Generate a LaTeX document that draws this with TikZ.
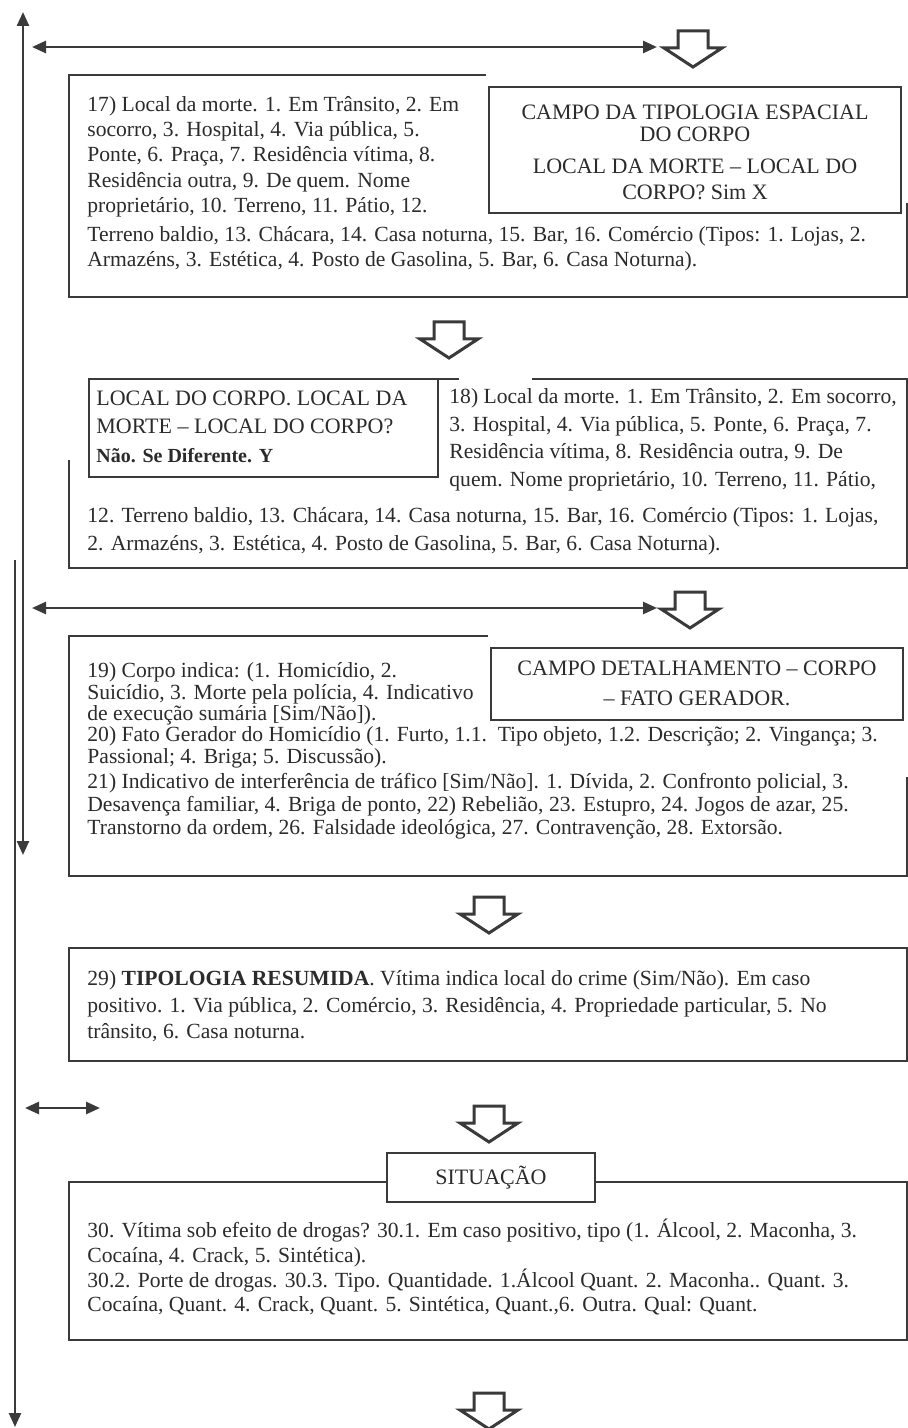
\documentclass[tikz,border=0pt]{standalone}
\usepackage{fontspec}
\setmainfont{Liberation Serif}
\usetikzlibrary{arrows.meta}
\definecolor{linec}{HTML}{3A3A3A}
\definecolor{txtc}{HTML}{2B2B2B}
\newcommand{\bodyfnt}{\fontsize{10.8}{12}\selectfont}
\newcommand{\titlefnt}{\fontsize{11}{13}\selectfont}
\tikzset{
  ln/.style={anchor=base west, inner sep=0pt, font=\bodyfnt, text=txtc},
  ttl/.style={anchor=base, inner sep=0pt, font=\titlefnt, text=txtc},
  ttlw/.style={anchor=base west, inner sep=0pt, font=\titlefnt, text=txtc},
  bx/.style={draw=linec, line width=1.4pt},
  con/.style={draw=linec, line width=1.2pt},
  tip/.tip={Triangle[length=7pt,width=6pt]},
  harr/.style={draw=linec, line width=1.3pt, tip-tip},
  hol/.style={draw=linec, line width=1.5pt, fill=white, line join=miter},
  hollowdown/.pic={\draw[hol] (-15,0) -- (15,0) -- (15,17) -- (29,17) -- (0,36) -- (-29,17) -- (-15,17) -- cycle;}
}
\begin{document}
\begin{tikzpicture}[x=0.5pt,y=-0.5pt]
\useasboundingbox[fill=white] (0,0) rectangle (908,1428);

% ---------- left long connectors ----------
\coordinate (aTop) at (23,12);
\coordinate (aBot) at (23,855);
\coordinate (bTop) at (15,560);
\coordinate (bBot) at (15,1427);
\draw[con, tip-tip] (aTop) -- (aBot);
\draw[con, -tip] (bTop) -- (bBot);

% ---------- horizontal double arrows ----------
\coordinate (h1L) at (32,47);  \coordinate (h1R) at (657,47);
\coordinate (h2L) at (32,608); \coordinate (h2R) at (657,608);
\coordinate (h3L) at (25,1108); \coordinate (h3R) at (100,1108);
\draw[harr] (h1L) -- (h1R);
\draw[harr] (h2L) -- (h2R);
\draw[harr] (h3L) -- (h3R);

% ---------- hollow arrows ----------
\pic (ha1) at (693,31) {hollowdown};
\pic (ha2) at (449,322) {hollowdown};
\pic (ha3) at (690,592) {hollowdown};
\pic (ha4) at (489,897) {hollowdown};
\pic (ha5) at (489,1106) {hollowdown};
\pic (ha6) at (489,1393) {hollowdown};

% ---------- Box 1 ----------
\draw[bx] (486,75) -- (69,75) -- (69,297) -- (907,297) -- (907,203);
\draw[bx] (489,87) rectangle (901,213);
\foreach \yy/\txt [count=\i] in {
 112/{17) Local da morte. 1. Em Trânsito, 2. Em},
 137/{socorro, 3. Hospital, 4. Via pública, 5.},
 162/{Ponte, 6. Praça, 7. Residência vítima, 8.},
 188/{Residência outra, 9. De quem. Nome},
 213/{proprietário, 10. Terreno, 11. Pátio, 12.},
 242/{Terreno baldio, 13. Chácara, 14. Casa noturna, 15. Bar, 16. Comércio (Tipos: 1. Lojas, 2.},
 267/{Armazéns, 3. Estética, 4. Posto de Gasolina, 5. Bar, 6. Casa Noturna).}}
 \node[ln] (bA\i) at (87,\yy) {\txt};
\foreach \yy/\txt [count=\i] in {
 120/{CAMPO DA TIPOLOGIA ESPACIAL},
 142/{DO CORPO},
 174/{LOCAL DA MORTE – LOCAL DO},
 200/{CORPO? Sim X}}
 \node[ttl] (tA\i) at (695,\yy) {\txt};

% ---------- Box 2 ----------
\draw[bx] (438,379) -- (459,379);
\draw[bx] (532,379) -- (907,379) -- (907,568) -- (69,568) -- (69,460);
\draw[bx] (89,379) rectangle (438,477);
\node[ttlw] (tB1) at (96,405) {LOCAL DO CORPO. LOCAL DA};
\node[ttlw] (tB2) at (96,433) {MORTE – LOCAL DO CORPO?};
\node[ttlw, font=\fontsize{10}{12}\selectfont\bfseries] (tB3) at (96,462) {Não. Se Diferente. Y};
\foreach \yy/\txt [count=\i] in {
 403/{18) Local da morte. 1. Em Trânsito, 2. Em socorro,},
 431/{3. Hospital, 4. Via pública, 5. Ponte, 6. Praça, 7.},
 458/{Residência vítima, 8. Residência outra, 9. De},
 486/{quem. Nome proprietário, 10. Terreno, 11. Pátio,}}
 \node[ln] (bB\i) at (449,\yy) {\txt};
\node[ln] (bB5) at (87,522) {12. Terreno baldio, 13. Chácara, 14. Casa noturna, 15. Bar, 16. Comércio (Tipos: 1. Lojas,};
\node[ln] (bB6) at (87,550) {2. Armazéns, 3. Estética, 4. Posto de Gasolina, 5. Bar, 6. Casa Noturna).};

% ---------- Box 3 ----------
\draw[bx] (488,636) -- (69,636) -- (69,876) -- (907,876) -- (907,777);
\draw[bx] (491,648) rectangle (903,720);
\node[ttl] (tC1) at (697,675) {CAMPO DETALHAMENTO – CORPO};
\node[ttl] (tC2) at (697,705) {– FATO GERADOR.};
\foreach \yy/\txt [count=\i] in {
 677/{19) Corpo indica: (1. Homicídio, 2.},
 699/{Suicídio, 3. Morte pela polícia, 4. Indicativo},
 720/{de execução sumária [Sim/Não]).},
 741/{20) Fato Gerador do Homicídio (1. Furto, 1.1.\ \ Tipo objeto, 1.2. Descrição; 2. Vingança; 3.},
 763/{Passional; 4. Briga; 5. Discussão).},
 788/{21) Indicativo de interferência de tráfico [Sim/Não]. 1. Dívida, 2. Confronto policial, 3.},
 811/{Desavença familiar, 4. Briga de ponto, 22) Rebelião, 23. Estupro, 24. Jogos de azar, 25.},
 834/{Transtorno da ordem, 26. Falsidade ideológica, 27. Contravenção, 28. Extorsão.}}
 \node[ln] (bC\i) at (87,\yy) {\txt};

% ---------- Box 4 ----------
\draw[bx] (69,948) rectangle (907,1061);
\node[ln] (bD1) at (87,985) {29) {\bfseries TIPOLOGIA RESUMIDA}. Vítima indica local do crime (Sim/Não). Em caso};
\node[ln] (bD2) at (87,1012) {positivo. 1. Via pública, 2. Comércio, 3. Residência, 4. Propriedade particular, 5. No};
\node[ln] (bD3) at (87,1038) {trânsito, 6. Casa noturna.};

% ---------- Box 5 ----------
\draw[bx] (387,1182) -- (69,1182) -- (69,1340) -- (907,1340) -- (907,1182) -- (595,1182);
\draw[bx, fill=white] (387,1153) rectangle (595,1202);
\node[ttl] (tE1) at (491,1184) {SITUAÇÃO};
\foreach \yy/\txt [count=\i] in {
 1237/{30. Vítima sob efeito de drogas? 30.1. Em caso positivo, tipo (1. Álcool, 2. Maconha, 3.},
 1262/{Cocaína, 4. Crack, 5. Sintética).},
 1287/{30.2. Porte de drogas. 30.3. Tipo. Quantidade. 1.Álcool Quant. 2. Maconha.. Quant. 3.},
 1311/{Cocaína, Quant. 4. Crack, Quant. 5. Sintética, Quant.,6. Outra. Qual: Quant.}}
 \node[ln] (bE\i) at (87,\yy) {\txt};
\end{tikzpicture}
\end{document}
